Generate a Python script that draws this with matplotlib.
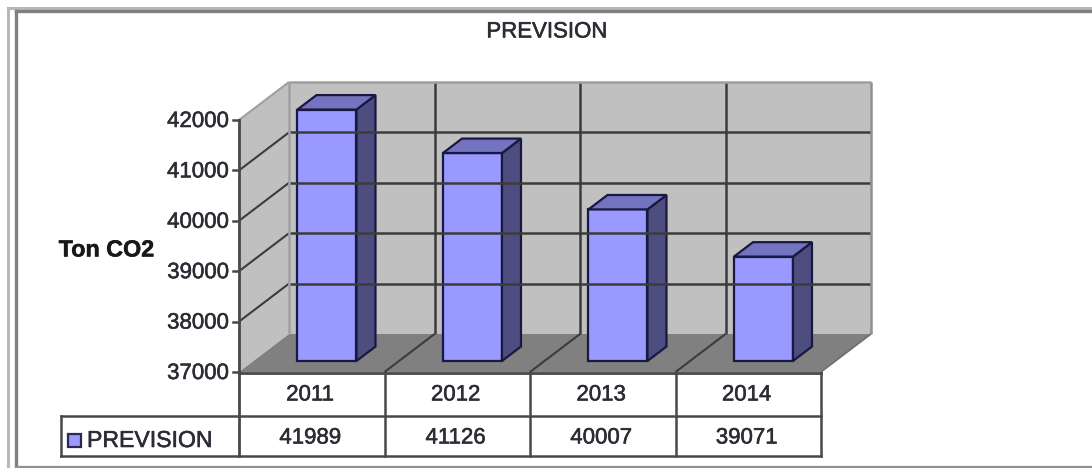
import matplotlib
matplotlib.use("Agg")
import matplotlib.pyplot as plt
import matplotlib.patheffects as pe
from matplotlib.patches import Rectangle

plt.rcParams['font.family'] = ['Liberation Sans', 'DejaVu Sans']

years = ["2011", "2012", "2013", "2014"]
prevision = [41989, 41126, 40007, 39071]
y_ticks = [37000, 38000, 39000, 40000, 41000, 42000]

W, H = 1092, 468
text_col = "#2c2c34"
grid_col = "#3c3c3c"
table_col = "#484848"

fig = plt.figure(figsize=(W / 100, H / 100), dpi=100, facecolor="white")

# page layer in pixels, for the frame and the table round the chart
bg = fig.add_axes([0, 0, 1, 1])
bg.set_xlim(0, W)
bg.set_ylim(H, 0)
bg.axis("off")

bg.plot([8, 8], [H, 8], color="#b8b8b8", lw=2.2)
bg.plot([8, W], [8, 8], color="#b8b8b8", lw=2.2)
bg.plot([16, 16], [H, 11], color="#808080", lw=2.4)
bg.plot([16, W], [11, 11], color="#808080", lw=2.4)
bg.plot([16, W], [466.5, 466.5], color="#909090", lw=1.6)

# front plane of the 3D box is the real axes
ax = fig.add_axes([239 / W, 1 - 372 / H, 582 / W, 252 / H])
ax.set_xlim(0, 4)
ax.set_ylim(37000, 42000)
ax.axis("off")
ax.patch.set_alpha(0)

cat_px = 582 / 4
val_px = 252 / 5000
depth_x = 50 / cat_px
depth_y = 38 / val_px
x0, x1 = 0, 4
y0, y1 = y_ticks[0], y_ticks[-1]


def shift(x, y, frac):
    return x + depth_x * frac, y + depth_y * frac


def poly(pts, **kw):
    ax.fill([p[0] for p in pts], [p[1] for p in pts], clip_on=False, **kw)


def seg(a, b, **kw):
    ax.plot([a[0], b[0]], [a[1], b[1]], clip_on=False, solid_capstyle="butt", **kw)


def label(x, y, s, size=16, **kw):
    # the source is a blurry screenshot, a thin stroke gives the same heavier look
    t = bg.text(x, y, s, va="center", fontsize=size, color=kw.pop("color", text_col), **kw)
    t.set_path_effects([pe.withStroke(linewidth=0.4, foreground=text_col)])
    return t


# walls and floor
poly([shift(x0, y0, 1), shift(x1, y0, 1), shift(x1, y1, 1), shift(x0, y1, 1)], color="#c0c0c0", lw=0)
poly([(x0, y0), shift(x0, y0, 1), shift(x0, y1, 1), (x0, y1)], color="#c0c0c0", lw=0)
poly([(x0, y0), (x1, y0), shift(x1, y0, 1), shift(x0, y0, 1)], color="#808080", lw=0)

for v in y_ticks[1:-1]:
    seg((x0, v), shift(x0, v, 1), color=grid_col, lw=1.5)
    seg(shift(x0, v, 1), shift(x1, v, 1), color=grid_col, lw=1.8)
for k in range(1, 4):
    seg(shift(k, y0, 1), shift(k, y1, 1), color=grid_col, lw=1.8)
    seg((k, y0), shift(k, y0, 1), color=grid_col, lw=1.5)

# wall borders
edge = "#a0a0a0"
seg((x0, y1), shift(x0, y1, 1), color=edge, lw=1.5)
seg(shift(x0, y1, 1), shift(x1, y1, 1), color=edge, lw=1.8)
seg(shift(x0, y0, 1), shift(x0, y1, 1), color=edge, lw=1.8)
seg(shift(x1, y0, 1), shift(x1, y1, 1), color="#909090", lw=1.8)
seg((x1, y0), shift(x1, y0, 1), color="#707070", lw=1.2)

# bars
bar_w = 59 / cat_px
bar_edge = "#181840"
bar_front = 0.29
bar_back = 0.67
for i, v in enumerate(prevision):
    left = i + 0.505 - bar_w / 2
    right = left + bar_w
    poly([shift(left, y0, bar_front), shift(right, y0, bar_front),
          shift(right, v, bar_front), shift(left, v, bar_front)],
         facecolor="#9999ff", edgecolor=bar_edge, lw=1.6)
    poly([shift(right, y0, bar_front), shift(right, y0, bar_back),
          shift(right, v, bar_back), shift(right, v, bar_front)],
         facecolor="#4d4d80", edgecolor=bar_edge, lw=1.6)
    poly([shift(left, v, bar_front), shift(right, v, bar_front),
          shift(right, v, bar_back), shift(left, v, bar_back)],
         facecolor="#7373bf", edgecolor=bar_edge, lw=1.6)

# value axis
bg.set_zorder(ax.get_zorder() + 1)
bg.patch.set_alpha(0)
for v in y_ticks:
    bg_y = 372 - (v - y0) * val_px
    bg.plot([233, 239], [bg_y, bg_y], color=table_col, lw=1.8)
    label(229, bg_y + 1.5, str(v), ha="right")

# data table
bg.plot([239, 239], [120, 456], color=table_col, lw=2)
bg.plot([239, 821], [372.5, 372.5], color=table_col, lw=2)
bg.plot([61, 821], [415.5, 415.5], color=table_col, lw=1.8)
bg.plot([61, 821], [455.5, 455.5], color=table_col, lw=1.8)
bg.plot([61, 61], [415.5, 455.5], color=table_col, lw=1.8)
for k in range(1, 5):
    xk = 239 + k * cat_px
    bg.plot([xk, xk], [372.5, 455.5], color=table_col, lw=1.8)

for i, (yr, v) in enumerate(zip(years, prevision)):
    xc = 239 + (i + 0.5) * cat_px - 1.5
    label(xc, 395, yr, ha="center")
    label(xc, 438, str(v), ha="center")

bg.add_patch(Rectangle((68, 434), 13, 13, facecolor="#9999ff", edgecolor="#2a2a50", lw=1.6))
label(87, 440.5, "PREVISION", size=16.6, ha="left")

label(547, 32, "PREVISION", ha="center")
label(106.5, 250, "Ton CO2", size=16.8, ha="center", fontweight="bold", color="#181818")

fig.savefig("out.png", dpi=100, facecolor="white")
